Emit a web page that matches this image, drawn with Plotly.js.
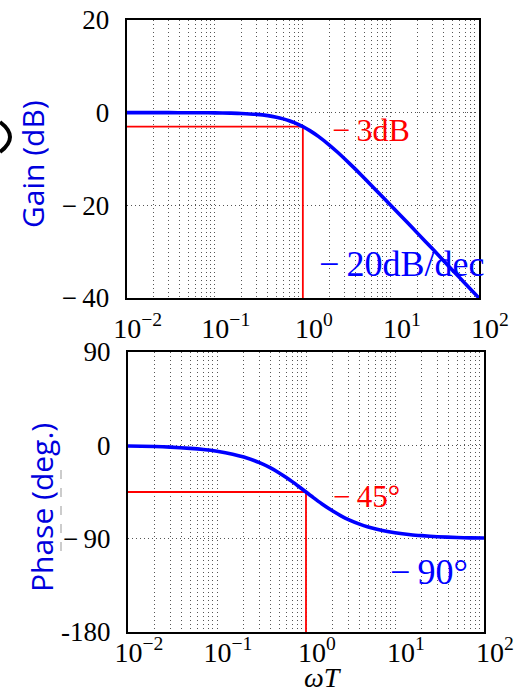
<!DOCTYPE html>
<html>
<head>
<meta charset="utf-8">
<script src="https://cdn.plot.ly/plotly-3.0.1.min.js"></script>
<style>html,body{margin:0;padding:0;background:#fff}#chart{width:531px;height:693px}</style>
</head>
<body>
<div id="chart"></div>
<script>
// ---- data ----
const omegaT = [0.01, 0.02, 0.03, 0.05, 0.07, 0.1, 0.15, 0.2, 0.3, 0.4, 0.5, 0.6, 0.7, 0.8, 1, 1.2, 1.5, 2, 2.5, 3, 4, 5, 7, 10, 15, 20, 30, 50, 70, 100];
const gainDb = [0, 0, 0, -0.01, -0.02, -0.04, -0.1, -0.17, -0.37, -0.64, -0.97, -1.34, -1.73, -2.15, -3.01, -3.87, -5.12, -6.99, -8.6, -10.0, -12.3, -14.15, -17.0, -20.04, -23.5, -26.0, -29.5, -34.0, -36.9, -40.0];
const phaseDeg = [-0.6, -1.1, -1.7, -2.9, -4.0, -5.7, -8.5, -11.3, -16.7, -21.8, -26.6, -31.0, -35.0, -38.7, -45, -50.2, -56.3, -63.4, -68.2, -71.6, -76.0, -78.7, -81.9, -84.3, -86.2, -87.1, -88.1, -88.9, -89.2, -89.4];

const cornerX = [0.01, 1, 1];
const cornerGain = [-3, -3, -40];
const cornerPhase = [-45, -45, -180];

const decadeVals = [0.01, 0.1, 1, 10, 100];
const decadeLabels = ['10<sup>−2</sup>', '10<sup>−1</sup>', '10<sup>0</sup>', '10<sup>1</sup>', '10<sup>2</sup>'];
const gainTicks = [-40, -20, 0, 20];
const gainTickLabels = ['−\u200940', '−\u200920', '0', '20'];
const phaseTicks = [-180, -90, 0, 90];
const phaseTickLabels = ['-180', '−\u200990', '0', '90'];

// tick/grid positions: decades plus 2..9 minor lines (minor lines unlabeled)
const xTickVals = [], xTickText = [];
decadeVals.forEach((d, i) => {
  xTickVals.push(d); xTickText.push(decadeLabels[i]);
  if (i < decadeVals.length - 1) {
    for (let k = 2; k <= 9; k++) { xTickVals.push(d * k); xTickText.push(''); }
  }
});

const serif = 'Liberation Serif, Times New Roman, serif';
const W = 531, H = 693;
const px = v => v / W, py = v => 1 - v / H;

const gridStyle = {showgrid: true, gridcolor: '#555', gridwidth: 1, griddash: '1px,3px'};
const frame = {showline: true, mirror: true, linecolor: '#000', linewidth: 2, zeroline: false, ticks: ''};

function xAxis(domain, anchor, standoff) {
  return Object.assign({}, frame, gridStyle, {
    domain: domain, anchor: anchor, type: 'log', range: [-2, 2],
    tickmode: 'array', tickvals: xTickVals, ticktext: xTickText, tickangle: 0,
    tickfont: {family: serif, size: 28, color: '#000'},
    ticklabelshift: 11, ticklabelstandoff: standoff
  });
}
function yAxis(domain, anchor, range, vals, text) {
  return Object.assign({}, frame, gridStyle, {
    domain: domain, anchor: anchor, range: range,
    tickmode: 'array', tickvals: vals, ticktext: text,
    tickfont: {family: serif, size: 27, color: '#000'},
    ticklabelstandoff: 10
  });
}

const red = '#ff0000', blue = '#0000ff';
const traces = [
  {x: cornerX, y: cornerGain, xaxis: 'x', yaxis: 'y', mode: 'lines', line: {color: red, width: 1.8}, hoverinfo: 'skip'},
  {x: omegaT, y: gainDb, xaxis: 'x', yaxis: 'y', mode: 'lines', line: {color: blue, width: 3.6, shape: 'spline', smoothing: 0.6}, cliponaxis: false},
  {x: cornerX, y: cornerPhase, xaxis: 'x2', yaxis: 'y2', mode: 'lines', line: {color: red, width: 1.8}, hoverinfo: 'skip'},
  {x: omegaT, y: phaseDeg, xaxis: 'x2', yaxis: 'y2', mode: 'lines', line: {color: blue, width: 3.6, shape: 'spline', smoothing: 0.6}, cliponaxis: false}
];

const ann = (text, x, y, size, color, extra) => Object.assign({
  text: text, xref: 'paper', yref: 'paper', x: px(x), y: py(y), showarrow: false,
  xanchor: 'left', yanchor: 'middle', font: {family: serif, size: size, color: color}
}, extra || {});
const sans = 'Open Sans, sans-serif';

const layout = {
  width: W, height: H,
  margin: {l: 0, r: 0, t: 0, b: 0},
  paper_bgcolor: '#fff', plot_bgcolor: '#fff',
  showlegend: false,
  xaxis: xAxis([px(126.7), px(479)], 'y', 4),
  yaxis: yAxis([py(298), py(20)], 'x', [-40, 20], gainTicks, gainTickLabels),
  xaxis2: xAxis([px(128), px(484)], 'y2', -6),
  yaxis2: yAxis([py(632), py(352)], 'x2', [-180, 90], phaseTicks, phaseTickLabels),
  annotations: [
    ann('−\u20093dB', 330, 130, 32, red),
    ann('−\u200920dB/dec', 317, 264, 36, blue),
    ann('−\u200945°', 331, 496, 31, red),
    ann('−\u200990°', 388, 572, 36, blue),
    ann('<i>ωT</i>', 323, 677, 28, '#000', {xanchor: 'center'}),
    ann('Gain (dB)', 32, 164, 30, '#0000dd', {xanchor: 'center', textangle: -90, font: {family: sans, size: 30, color: '#0000dd'}}),
    ann('Phase (deg.)', 41, 508, 30, '#0000dd', {xanchor: 'center', textangle: -90, font: {family: sans, size: 30, color: '#0000dd'}})
  ],
  shapes: [
    {type: 'line', xref: 'paper', yref: 'paper', x0: px(61), x1: px(61), y0: py(470), y1: py(552), line: {color: '#999', width: 1, dash: 'dash'}},
    {type: 'path', xref: 'paper', yref: 'paper', path: `M 0 ${py(122)} Q ${px(20)} ${py(137)} 0 ${py(152)}`, line: {color: '#000', width: 4}}
  ]
};

Plotly.newPlot('chart', traces, layout, {staticPlot: true, displayModeBar: false});
</script>
</body>
</html>
